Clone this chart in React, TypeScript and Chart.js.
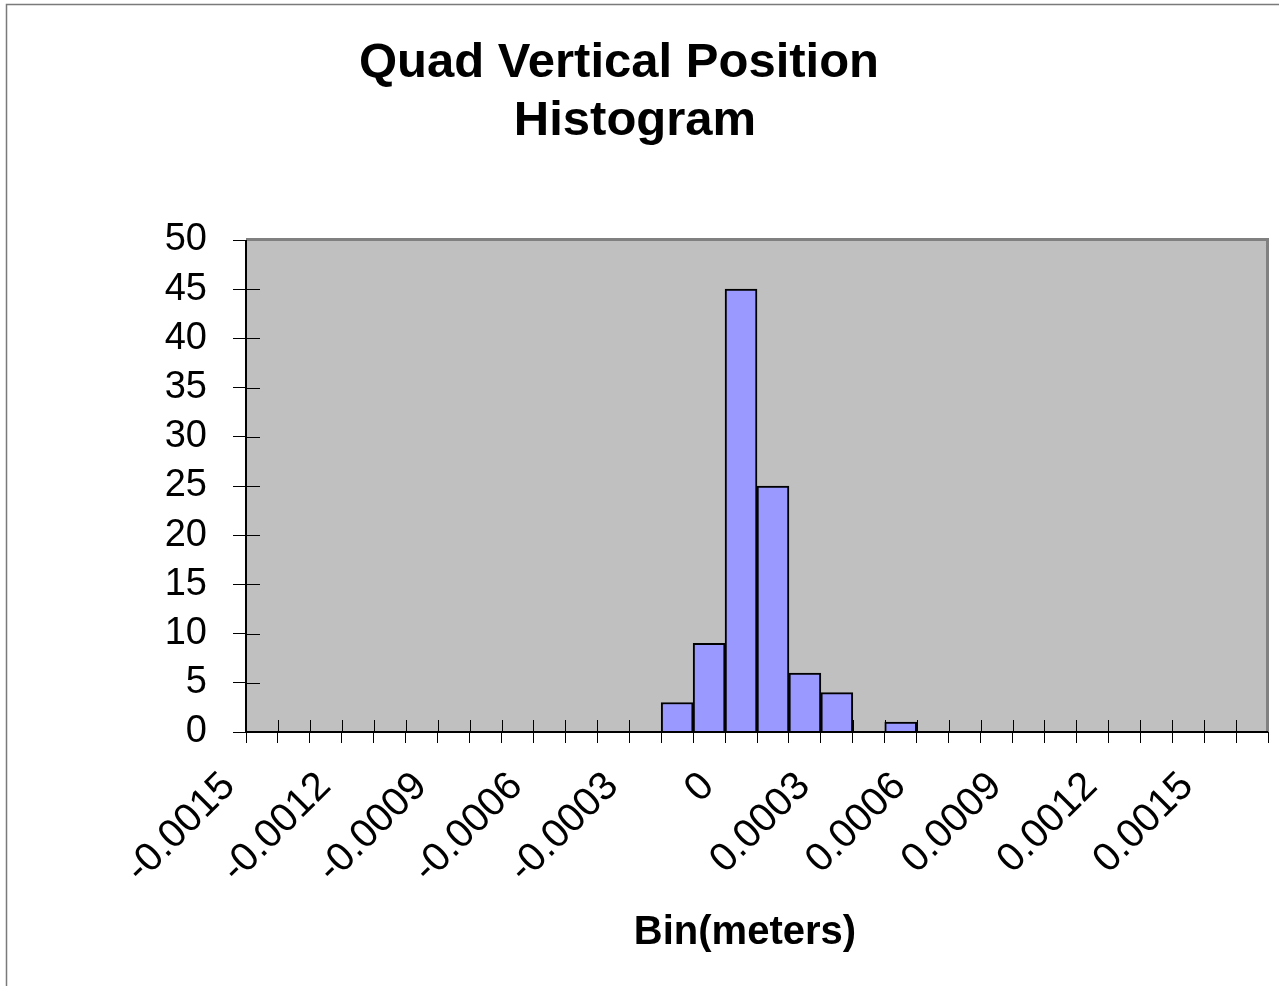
import React, { useEffect, useRef } from 'react';
import { Chart, registerables } from 'chart.js';

Chart.register(...registerables);

const bins = [
  '-0.0015', '-0.0014', '-0.0013', '-0.0012', '-0.0011', '-0.001', '-0.0009', '-0.0008',
  '-0.0007', '-0.0006', '-0.0005', '-0.0004', '-0.0003', '-0.0002', '-0.0001', '0',
  '0.0001', '0.0002', '0.0003', '0.0004', '0.0005', '0.0006', '0.0007', '0.0008',
  '0.0009', '0.001', '0.0011', '0.0012', '0.0013', '0.0014', '0.0015', '0.0016',
];

const counts = [
  0, 0, 0, 0, 0, 0, 0, 0,
  0, 0, 0, 0, 0, 3, 9, 45,
  25, 6, 4, 0, 1, 0, 0, 0,
  0, 0, 0, 0, 0, 0, 0, 0,
];

const shownBinLabels = [
  '-0.0015', '-0.0012', '-0.0009', '-0.0006', '-0.0003', '0',
  '0.0003', '0.0006', '0.0009', '0.0012', '0.0015',
];

const yMin = 0;
const yMax = 50;
const yStep = 5;

const titleLines = ['Quad Vertical Position', 'Histogram'];
const xAxisTitle = 'Bin(meters)';

const FONT = '"Liberation Sans", Arial, Helvetica, sans-serif';

export default function App() {
  const ref = useRef<HTMLCanvasElement>(null);

  useEffect(() => {
    const decor = {
      id: 'decor',
      beforeDraw(chart: any) {
        const { ctx, chartArea } = chart;
        ctx.save();
        ctx.fillStyle = '#ffffff';
        ctx.fillRect(0, 0, chart.width, chart.height);
        ctx.fillStyle = '#C0C0C0';
        ctx.fillRect(chartArea.left, chartArea.top, chartArea.right - chartArea.left, chartArea.bottom - chartArea.top);
        // outer frame
        ctx.strokeStyle = '#7a7a7a';
        ctx.lineWidth = 1.5;
        ctx.beginPath();
        ctx.moveTo(6.5, chart.height);
        ctx.lineTo(6.5, 4.5);
        ctx.lineTo(chart.width, 4.5);
        ctx.stroke();
        // titles
        ctx.fillStyle = '#000';
        ctx.textAlign = 'center';
        ctx.textBaseline = 'middle';
        ctx.font = `bold 49px ${FONT}`;
        ctx.fillText(titleLines[0], 619, 63);
        ctx.fillText(titleLines[1], 635, 121);
        ctx.font = `bold 40px ${FONT}`;
        ctx.fillText(xAxisTitle, 745, 933);
        ctx.restore();
      },
      beforeDatasetsDraw(chart: any) {
        const { ctx, chartArea } = chart;
        const xs = chart.scales.x;
        const ys = chart.scales.y;
        ctx.save();
        ctx.strokeStyle = '#000';
        ctx.lineWidth = 1;
        ctx.beginPath();
        for (let i = 0; i <= bins.length; i++) {
          const x = Math.round(xs.getPixelForValue(i - 0.5)) + 0.5;
          ctx.moveTo(x, chartArea.bottom);
          ctx.lineTo(x, chartArea.bottom - 12);
        }
        ys.ticks.forEach((t: any) => {
          const y = Math.round(ys.getPixelForValue(t.value)) + 0.5;
          ctx.moveTo(chartArea.left, y);
          ctx.lineTo(chartArea.left + 14, y);
        });
        ctx.stroke();
        ctx.restore();
      },
      afterDatasetsDraw(chart: any) {
        const { ctx, chartArea } = chart;
        const { left, right, top, bottom } = chartArea;
        ctx.save();
        ctx.strokeStyle = '#808080';
        ctx.lineWidth = 3;
        ctx.beginPath();
        ctx.moveTo(left, top - 0.5);
        ctx.lineTo(right + 1, top - 0.5);
        ctx.moveTo(right - 0.5, top - 2);
        ctx.lineTo(right - 0.5, bottom);
        ctx.stroke();
        ctx.strokeStyle = '#000';
        ctx.lineWidth = 2;
        ctx.beginPath();
        ctx.moveTo(left, top);
        ctx.lineTo(left, bottom + 1);
        ctx.moveTo(left - 1, bottom);
        ctx.lineTo(right, bottom);
        ctx.stroke();
        ctx.restore();
      },
    };

    const chart = new Chart(ref.current as HTMLCanvasElement, {
      type: 'bar',
      data: {
        labels: bins,
        datasets: [
          {
            data: counts,
            backgroundColor: '#9999FF',
            borderColor: '#000000',
            borderWidth: 2,
            barPercentage: 1,
            categoryPercentage: 1,
          },
        ],
      },
      options: {
        responsive: false,
        animation: false,
        layout: { padding: { top: 240, right: 11, bottom: 0, left: 0 } },
        plugins: {
          legend: { display: false },
          tooltip: { enabled: false },
          title: { display: false },
        },
        scales: {
          x: {
            offset: true,
            grid: {
              display: true,
              offset: true,
              drawOnChartArea: false,
              drawTicks: true,
              tickLength: 11,
              tickColor: '#000',
              tickWidth: 1,
            },
            border: { display: false },
            ticks: {
              autoSkip: false,
              minRotation: 45,
              maxRotation: 45,
              padding: 20,
              labelOffset: -33,
              color: '#000',
              font: { family: FONT, size: 40 },
              callback: (_v: any, i: number) => (shownBinLabels.includes(bins[i]) ? bins[i] : ''),
            },
            afterFit: (s: any) => {
              s.height = 254;
              s.paddingLeft = 0;
              s.paddingRight = 0;
            },
          },
          y: {
            min: yMin,
            max: yMax,
            ticks: {
              stepSize: yStep,
              padding: 26,
              color: '#000',
              font: { family: FONT, size: 38 },
            },
            grid: {
              drawOnChartArea: false,
              drawTicks: true,
              tickLength: 13,
              tickColor: '#000',
            },
            border: { display: false },
            afterFit: (s: any) => {
              s.width = 246;
              s.paddingTop = 0;
              s.paddingBottom = 0;
            },
          },
        },
      },
      plugins: [decor],
    } as any);

    return () => chart.destroy();
  }, []);

  return (
    <div style={{ position: 'absolute', left: 0, top: 0, width: 1279, height: 986 }}>
      <canvas ref={ref} width={1279} height={986} style={{ display: 'block' }} />
    </div>
  );
}
